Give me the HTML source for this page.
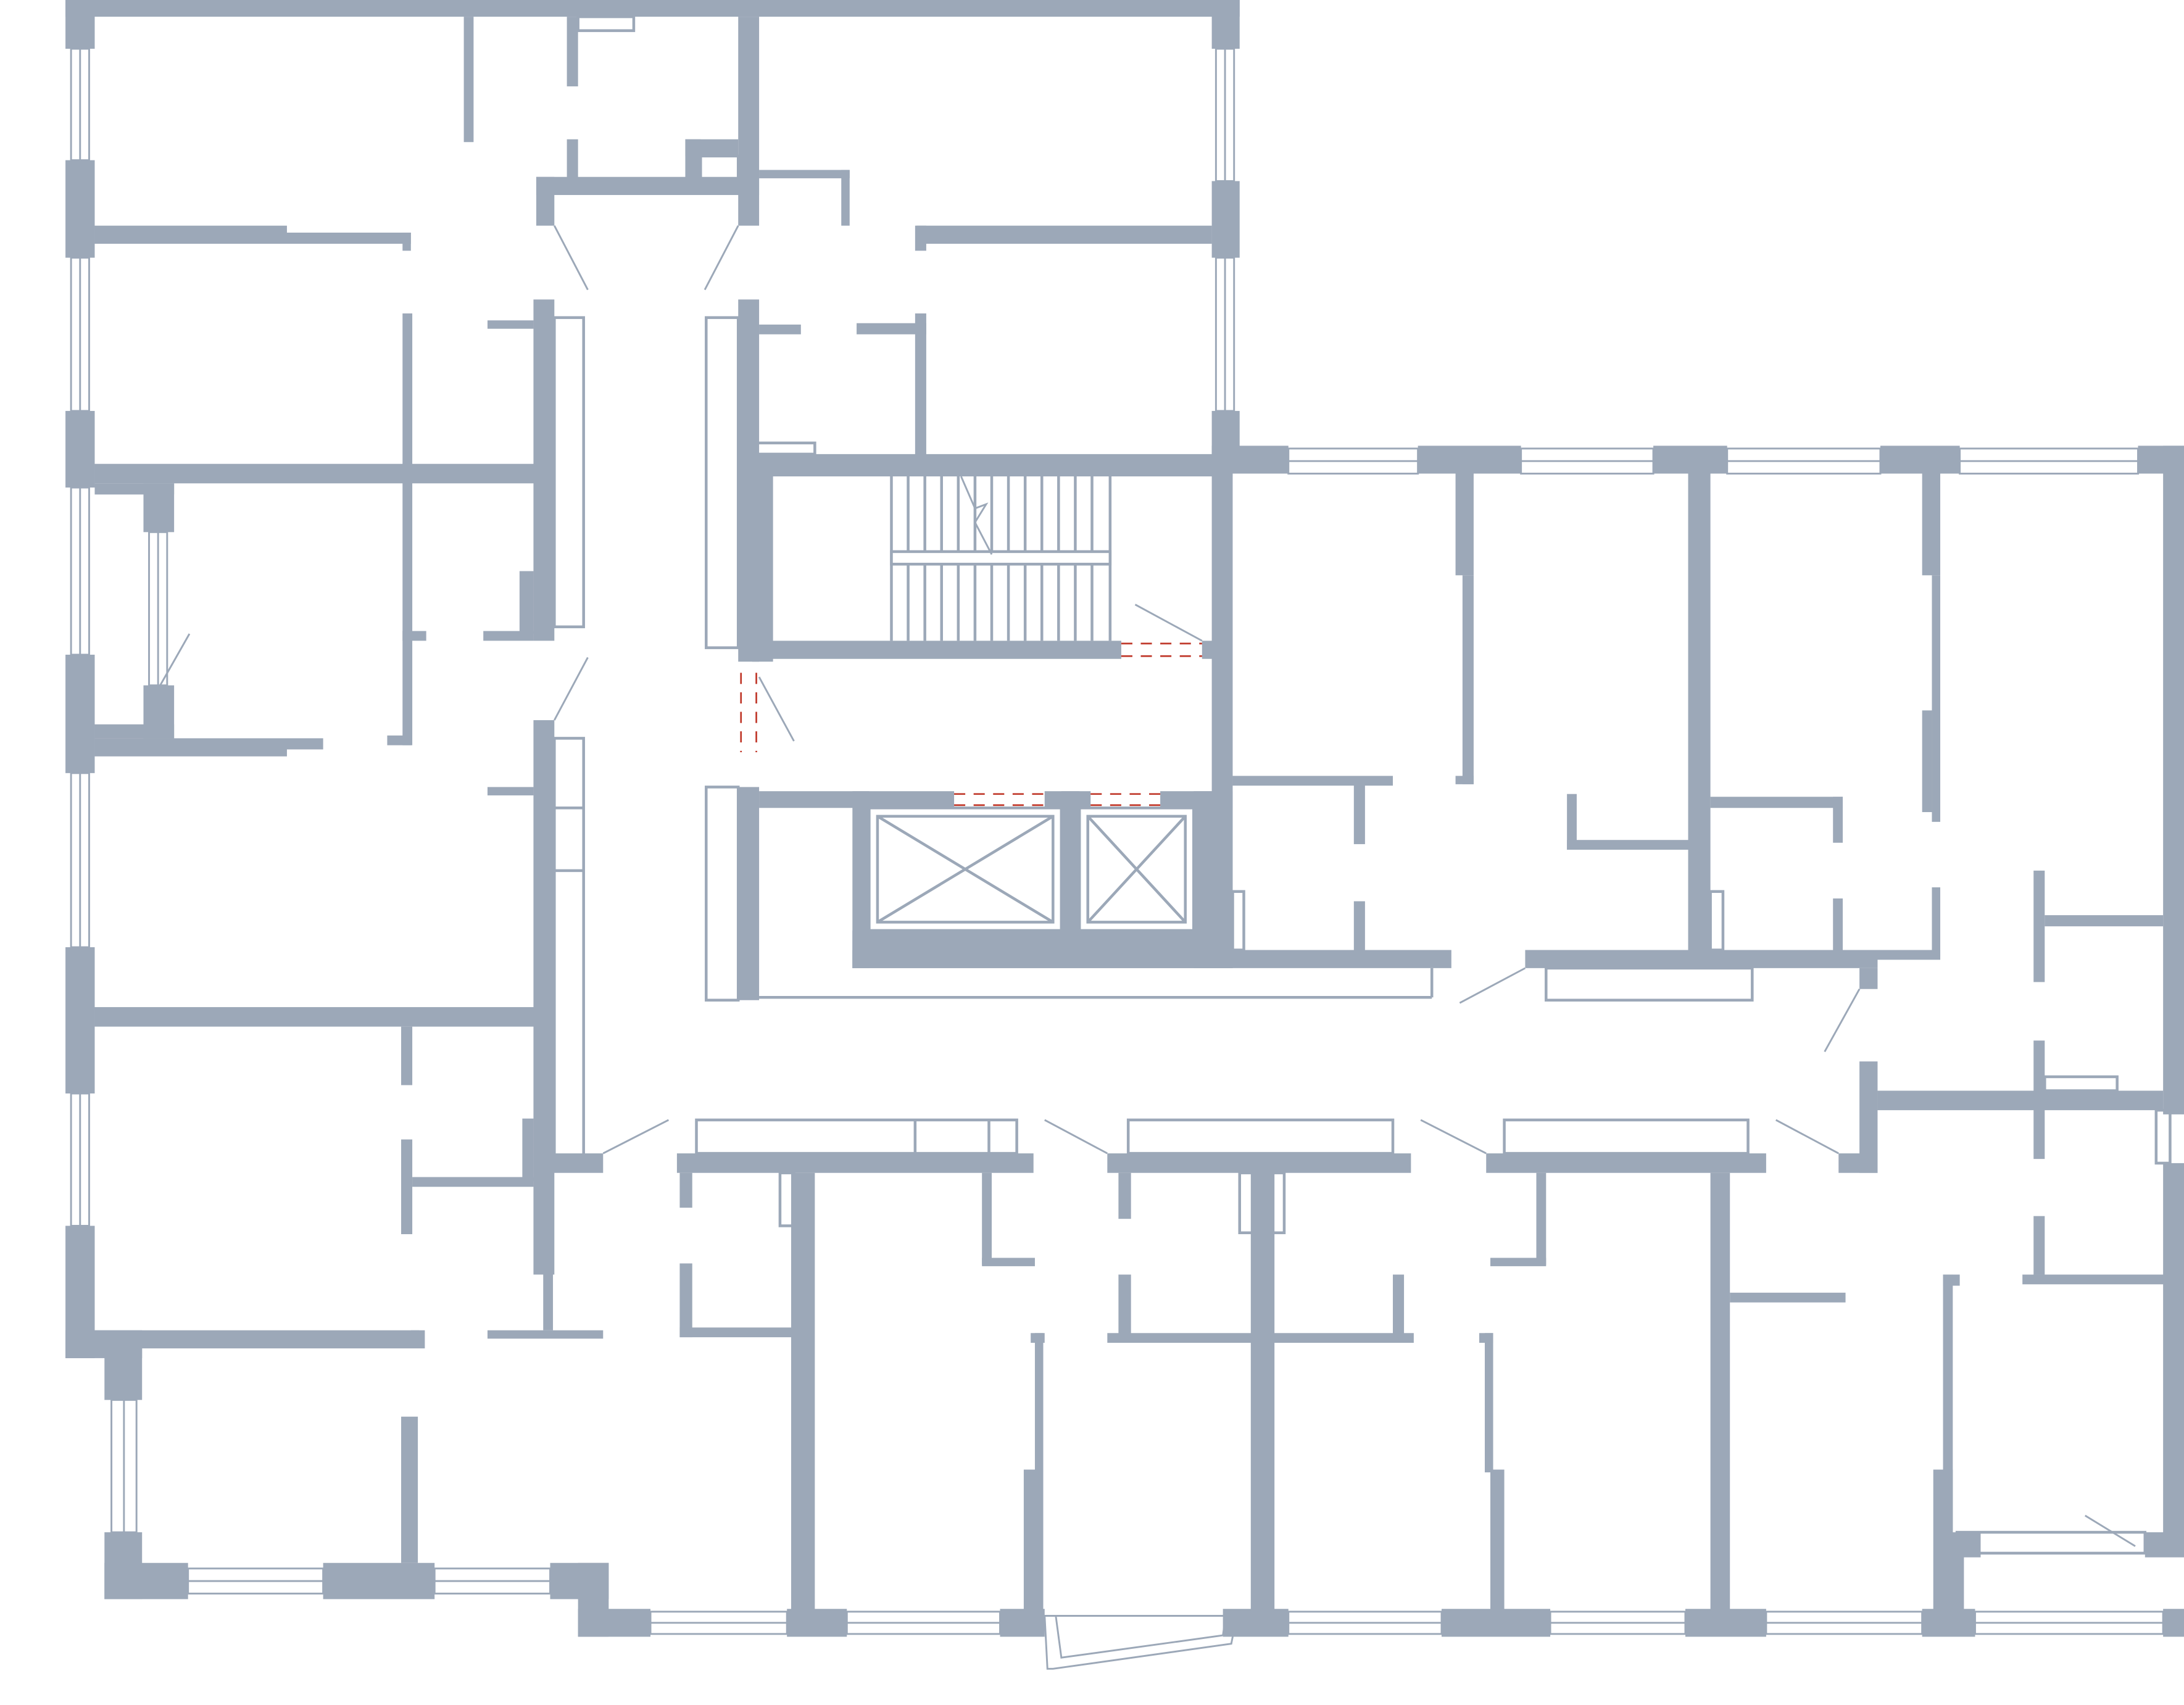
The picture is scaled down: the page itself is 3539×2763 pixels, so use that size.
<!DOCTYPE html>
<html><head><meta charset="utf-8"><style>html,body{margin:0;padding:0;background:#fff}svg{display:block}</style></head>
<body>
<svg width="3539" height="2763" viewBox="0 0 1568 1224" preserveAspectRatio="none" xmlns="http://www.w3.org/2000/svg">
<g fill="#9CA8B8">
<!-- top block outer -->
<rect x="47" y="0" width="843" height="12"/>
<rect x="47" y="0" width="21" height="35"/>
<rect x="47" y="115" width="21" height="70"/>
<rect x="47" y="295" width="21" height="55"/>
<rect x="47" y="470" width="21" height="85"/>
<rect x="47" y="680" width="21" height="105"/>
<rect x="47" y="880" width="21" height="95"/>
<rect x="68" y="347" width="57" height="8"/><rect x="103" y="347" width="22" height="35"/>
<rect x="68" y="520" width="57" height="10"/><rect x="103" y="492" width="22" height="38"/>
<rect x="870" y="0" width="20" height="35"/>
<rect x="870" y="130" width="20" height="55"/>
<rect x="870" y="295" width="20" height="45"/>
<!-- left horizontals -->
<rect x="68" y="162" width="138" height="10"/><rect x="68" y="167" width="227" height="8"/><rect x="289" y="167" width="6" height="13"/>
<rect x="68" y="333" width="322" height="14"/>
<rect x="68" y="530" width="164" height="8"/><rect x="68" y="535" width="138" height="8"/>
<rect x="68" y="723" width="322" height="14"/>
<rect x="68" y="955" width="237" height="13"/><rect x="295" y="955" width="6" height="12"/>
<!-- bottom left wing -->
<rect x="47" y="955" width="55" height="20"/>
<rect x="75" y="960" width="27" height="45"/>
<rect x="75" y="1100" width="27" height="48"/>
<rect x="75" y="1122" width="60" height="26"/>
<rect x="232" y="1122" width="80" height="26"/>
<rect x="395" y="1122" width="42" height="26"/>
<rect x="415" y="1122" width="22" height="53"/>
<!-- top interior -->
<rect x="333" y="12" width="7" height="90"/>
<rect x="407" y="12" width="8" height="50"/>
<rect x="407" y="100" width="8" height="30"/>
<rect x="530" y="12" width="15" height="150"/>
<rect x="492" y="100" width="38" height="12"/><rect x="492" y="100" width="11" height="35"/>
<rect x="385" y="127" width="160" height="13"/><rect x="385" y="127" width="13" height="35"/>
<rect x="545" y="122" width="65" height="6"/><rect x="604" y="122" width="6" height="40"/>
<rect x="658" y="162" width="212" height="13"/><rect x="657" y="162" width="8" height="18"/>
<!-- left rooms -->
<rect x="289" y="225" width="7" height="310"/><rect x="289" y="453" width="17" height="7"/><rect x="278" y="528" width="17" height="7"/>
<rect x="383" y="215" width="15" height="245"/><rect x="350" y="230" width="33" height="6"/>
<rect x="347" y="453" width="36" height="7"/><rect x="373" y="410" width="10" height="45"/>
<rect x="383" y="517" width="15" height="398"/><rect x="350" y="565" width="33" height="6"/>
<rect x="288" y="737" width="8" height="42"/><rect x="288" y="818" width="8" height="68"/>
<rect x="296" y="845" width="87" height="7"/><rect x="375" y="803" width="8" height="45"/>
<rect x="390" y="830" width="7" height="125"/><rect x="350" y="955" width="83" height="6"/>
<rect x="383" y="828" width="50" height="14"/>
<rect x="288" y="1017" width="12" height="105"/>
<!-- centre -->
<rect x="530" y="215" width="15" height="260"/><rect x="545" y="233" width="30" height="7"/>
<rect x="615" y="232" width="50" height="8"/><rect x="657" y="225" width="8" height="105"/>
<rect x="540" y="326" width="345" height="16"/>
<rect x="540" y="340" width="15" height="135"/>
<rect x="545" y="460" width="260" height="13"/><rect x="863" y="460" width="8" height="13"/>
<rect x="870" y="320" width="15" height="365"/>
<rect x="530" y="565" width="15" height="153"/>
<rect x="545" y="568" width="140" height="12"/><rect x="750" y="568" width="33" height="12"/><rect x="833" y="568" width="52" height="12"/>
<rect x="612" y="568" width="12" height="127"/><rect x="762" y="568" width="13" height="115"/><rect x="857" y="568" width="28" height="127"/>
<rect x="612" y="668" width="273" height="27"/><rect x="612" y="682" width="430" height="13"/>
<!-- right block -->
<rect x="870" y="320" width="55" height="20"/>
<rect x="1018" y="320" width="74" height="20"/>
<rect x="1187" y="320" width="53" height="20"/>
<rect x="1350" y="320" width="57" height="20"/>
<rect x="1535" y="320" width="33" height="20"/>
<rect x="1553" y="320" width="15" height="480"/>
<rect x="1553" y="835" width="15" height="270"/>
<rect x="1045" y="340" width="13" height="73"/><rect x="1050" y="413" width="8" height="150"/><rect x="1045" y="557" width="13" height="6"/>
<rect x="885" y="557" width="115" height="7"/><rect x="972" y="563" width="8" height="43"/><rect x="972" y="647" width="8" height="35"/>
<rect x="1212" y="340" width="16" height="342"/>
<rect x="1125" y="603" width="87" height="7"/><rect x="1125" y="570" width="7" height="40"/>
<rect x="1228" y="572" width="95" height="8"/><rect x="1316" y="572" width="7" height="33"/>
<rect x="1316" y="645" width="7" height="37"/>
<rect x="1095" y="682" width="253" height="13"/><rect x="1323" y="682" width="70" height="7"/><rect x="1387" y="637" width="6" height="50"/>
<rect x="1335" y="695" width="13" height="15"/>
<rect x="1380" y="340" width="13" height="73"/><rect x="1387" y="413" width="6" height="177"/><rect x="1380" y="510" width="7" height="73"/>
<rect x="1460" y="625" width="8" height="80"/><rect x="1468" y="657" width="85" height="8"/>
<rect x="1460" y="747" width="8" height="85"/>
<rect x="1335" y="762" width="13" height="80"/><rect x="1320" y="828" width="28" height="14"/>
<rect x="1348" y="783" width="205" height="14"/>
<rect x="1460" y="873" width="8" height="42"/><rect x="1452" y="915" width="103" height="7"/>
<rect x="1395" y="915" width="12" height="8"/><rect x="1395" y="915" width="7" height="185"/>
<rect x="1388" y="1055" width="14" height="105"/>
<rect x="1400" y="1100" width="22" height="18"/><rect x="1540" y="1100" width="28" height="18"/>
<!-- bottom corridor -->
<rect x="486" y="828" width="256" height="14"/>
<rect x="488" y="842" width="9" height="25"/><rect x="488" y="907" width="9" height="53"/><rect x="488" y="953" width="80" height="7"/>
<rect x="568" y="842" width="17" height="318"/>
<rect x="705" y="842" width="7" height="66"/><rect x="705" y="903" width="38" height="6"/>
<rect x="740" y="957" width="10" height="7"/><rect x="743" y="957" width="6" height="100"/><rect x="735" y="1055" width="14" height="105"/>
<rect x="795" y="828" width="218" height="14"/>
<rect x="803" y="842" width="9" height="33"/><rect x="803" y="915" width="9" height="45"/>
<rect x="795" y="957" width="220" height="7"/><rect x="898" y="842" width="17" height="318"/>
<rect x="1000" y="915" width="8" height="45"/>
<rect x="1062" y="957" width="10" height="7"/><rect x="1066" y="957" width="6" height="100"/><rect x="1070" y="1055" width="10" height="105"/>
<rect x="1067" y="828" width="201" height="14"/>
<rect x="1103" y="842" width="7" height="66"/><rect x="1070" y="903" width="40" height="6"/>
<rect x="1228" y="842" width="14" height="318"/><rect x="1242" y="928" width="83" height="7"/>
<!-- bottom outer wall pieces -->
<rect x="415" y="1155" width="52" height="20"/>
<rect x="565" y="1155" width="43" height="20"/>
<rect x="718" y="1155" width="32" height="20"/>
<rect x="878" y="1155" width="47" height="20"/>
<rect x="1035" y="1155" width="78" height="20"/>
<rect x="1210" y="1155" width="58" height="20"/>
<rect x="1380" y="1155" width="38" height="20"/>
<rect x="1553" y="1155" width="15" height="20"/>
<rect x="1400" y="1115" width="10" height="45"/>
</g>
<!-- outlines -->
<g fill="none" stroke="#9CA8B8" stroke-width="2">
<rect x="415" y="12" width="40" height="10"/>
<rect x="503" y="112" width="27" height="23"/>
<rect x="398" y="228" width="21" height="222"/>
<rect x="398" y="530" width="21" height="300"/>
<line x1="398" y1="580" x2="419" y2="580"/><line x1="398" y1="625" x2="419" y2="625"/>
<rect x="507" y="228" width="23" height="237"/>
<rect x="542" y="318" width="43" height="8"/>
<rect x="507" y="565" width="23" height="153"/>
<line x1="545" y1="716" x2="1028" y2="716"/><line x1="1028" y1="695" x2="1028" y2="716"/>
<rect x="624" y="580" width="138" height="88"/><rect x="630" y="586" width="126" height="76"/>
<line x1="630" y1="586" x2="756" y2="662"/><line x1="756" y1="586" x2="630" y2="662"/>
<rect x="775" y="580" width="82" height="88"/><rect x="781" y="586" width="70" height="76"/>
<line x1="781" y1="586" x2="851" y2="662"/><line x1="851" y1="586" x2="781" y2="662"/>
<rect x="885" y="640" width="8" height="42"/>
<rect x="1110" y="695" width="148" height="23"/>
<rect x="1228" y="640" width="9" height="42"/>
<rect x="1468" y="773" width="52" height="10"/>
<rect x="1548" y="797" width="10" height="38"/>
<rect x="1405" y="1100" width="135" height="15"/>
<rect x="500" y="804" width="230" height="24"/><line x1="657" y1="804" x2="657" y2="828"/><line x1="710" y1="804" x2="710" y2="828"/>
<rect x="560" y="842" width="10" height="38"/>
<rect x="810" y="804" width="190" height="24"/>
<rect x="890" y="842" width="32" height="43"/>
<rect x="1080" y="804" width="175" height="24"/>
<!-- stairs -->
<line x1="640" y1="342" x2="640" y2="460"/>
<line x1="652" y1="342" x2="652" y2="460"/><line x1="664" y1="342" x2="664" y2="460"/><line x1="676" y1="342" x2="676" y2="460"/><line x1="688" y1="342" x2="688" y2="460"/><line x1="700" y1="342" x2="700" y2="460"/><line x1="712" y1="342" x2="712" y2="460"/><line x1="724" y1="342" x2="724" y2="460"/><line x1="736" y1="342" x2="736" y2="460"/><line x1="748" y1="342" x2="748" y2="460"/><line x1="760" y1="342" x2="760" y2="460"/><line x1="772" y1="342" x2="772" y2="460"/><line x1="784" y1="342" x2="784" y2="460"/><line x1="797" y1="342" x2="797" y2="460"/>
<rect x="640" y="396" width="157" height="9" fill="#fff"/>
</g>
<!-- windows -->
<g fill="none" stroke="#9CA8B8" stroke-width="1.3">
<rect x="51" y="35" width="13" height="80"/><line x1="57.5" y1="35" x2="57.5" y2="115"/>
<rect x="51" y="185" width="13" height="110"/><line x1="57.5" y1="185" x2="57.5" y2="295"/>
<rect x="51" y="350" width="13" height="120"/><line x1="57.5" y1="350" x2="57.5" y2="470"/>
<rect x="107" y="382" width="13" height="110"/><line x1="113.5" y1="382" x2="113.5" y2="492"/>
<rect x="51" y="555" width="13" height="125"/><line x1="57.5" y1="555" x2="57.5" y2="680"/>
<rect x="51" y="785" width="13" height="95"/><line x1="57.5" y1="785" x2="57.5" y2="880"/>
<rect x="873" y="35" width="13" height="95"/><line x1="879.5" y1="35" x2="879.5" y2="130"/>
<rect x="873" y="185" width="13" height="110"/><line x1="879.5" y1="185" x2="879.5" y2="295"/>
<rect x="80" y="1005" width="18" height="95"/><line x1="89" y1="1005" x2="89" y2="1100"/>
<rect x="135" y="1126" width="97" height="18"/><line x1="135" y1="1135" x2="232" y2="1135"/>
<rect x="312" y="1126" width="83" height="18"/><line x1="312" y1="1135" x2="395" y2="1135"/>
<rect x="925" y="322" width="93" height="18"/><line x1="925" y1="331" x2="1018" y2="331"/>
<rect x="1092" y="322" width="95" height="18"/><line x1="1092" y1="331" x2="1187" y2="331"/>
<rect x="1240" y="322" width="110" height="18"/><line x1="1240" y1="331" x2="1350" y2="331"/>
<rect x="1407" y="322" width="128" height="18"/><line x1="1407" y1="331" x2="1535" y2="331"/>
<rect x="467" y="1157" width="98" height="16"/><line x1="467" y1="1165" x2="565" y2="1165"/>
<rect x="608" y="1157" width="110" height="16"/><line x1="608" y1="1165" x2="718" y2="1165"/>
<rect x="925" y="1157" width="110" height="16"/><line x1="925" y1="1165" x2="1035" y2="1165"/>
<rect x="1113" y="1157" width="97" height="16"/><line x1="1113" y1="1165" x2="1210" y2="1165"/>
<rect x="1268" y="1157" width="112" height="16"/><line x1="1268" y1="1165" x2="1380" y2="1165"/>
<rect x="1418" y="1157" width="135" height="16"/><line x1="1418" y1="1165" x2="1553" y2="1165"/>
<polygon points="750,1160 888,1160 884,1180 756,1198 752,1198"/>
<polygon points="758,1160 880,1160 878,1174 762,1190"/>
<!-- door swings -->
<line x1="398" y1="162" x2="422" y2="208"/><line x1="530" y1="162" x2="506" y2="208"/>
<line x1="398" y1="517" x2="422" y2="472"/><line x1="115" y1="492" x2="136" y2="455"/>
<line x1="815" y1="434" x2="863" y2="460"/><line x1="545" y1="486" x2="570" y2="532"/>
<line x1="433" y1="828" x2="480" y2="804"/><line x1="795" y1="828" x2="750" y2="804"/>
<line x1="1067" y1="828" x2="1020" y2="804"/><line x1="1320" y1="828" x2="1275" y2="804"/>
<line x1="1095" y1="695" x2="1048" y2="720"/><line x1="1335" y1="710" x2="1310" y2="755"/>
<line x1="1497" y1="1088" x2="1533" y2="1110"/>
<polyline points="690,342 700,365 708,362 700,375 712,398"/>
</g>
<g stroke="#c0392b" stroke-width="1.2" stroke-dasharray="8,6">
<line x1="805" y1="462" x2="863" y2="462"/><line x1="805" y1="471" x2="863" y2="471"/>
<line x1="532" y1="483" x2="532" y2="540"/><line x1="543" y1="483" x2="543" y2="540"/>
<line x1="685" y1="570" x2="750" y2="570"/><line x1="685" y1="578" x2="750" y2="578"/>
<line x1="783" y1="570" x2="833" y2="570"/><line x1="783" y1="578" x2="833" y2="578"/>
</g>
</svg>
</body></html>
